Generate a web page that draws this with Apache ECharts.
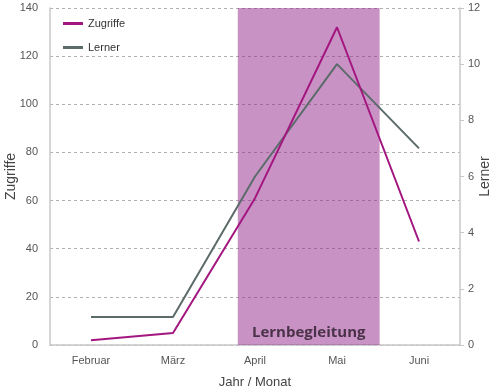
<!DOCTYPE html>
<html>
<head>
<meta charset="utf-8">
<script src="https://cdn.jsdelivr.net/npm/echarts@6/dist/echarts.min.js"></script>
<style>html,body{margin:0;padding:0;background:#fff}#c{width:500px;height:391px}</style>
</head>
<body>
<div id="c"></div>
<script>
const categories = ['Februar', 'März', 'April', 'Mai', 'Juni'];
const zugriffe = [2, 5, 61, 132, 43];
const lerner = [1, 1, 6, 10, 7];
const leftTicks = {min: 0, max: 140, interval: 20};
const rightTicks = {min: 0, max: 12, interval: 2};
const bandLabel = 'Lernbegleitung';
const bandRange = [1.79, 3.52];

const chart = echarts.init(document.getElementById('c'), null, {renderer: 'canvas'});
const font = 'Liberation Sans, Arial, sans-serif';
chart.setOption({
  animation: false,
  textStyle: {fontFamily: font},
  grid: {left: 50, right: 40, top: 8, bottom: 46, containLabel: false, outerBoundsMode: 'none'},
  legend: {
    orient: 'vertical', left: 58, top: 13, itemGap: 13,
    itemWidth: 20, itemHeight: 3, icon: 'rect',
    textStyle: {fontSize: 11, color: '#333', fontFamily: font},
    data: ['Zugriffe', 'Lerner']
  },
  xAxis: [{
    type: 'category', data: categories, boundaryGap: true,
    name: 'Jahr / Monat', nameLocation: 'middle', nameGap: 31, nameMoveOverlap: false,
    nameTextStyle: {fontSize: 13, color: '#444'},
    axisLine: {onZero: false, lineStyle: {color: '#c8c8c8', width: 1.5}},
    axisTick: {show: false},
    axisLabel: {fontSize: 11, color: '#555', margin: 10}
  }, {
    type: 'value', min: -0.5, max: 4.5, show: false,
    axisLine: {onZero: false}
  }],
  yAxis: [{
    type: 'value', min: leftTicks.min, max: leftTicks.max, interval: leftTicks.interval,
    position: 'left',
    name: 'Zugriffe', nameLocation: 'middle', nameGap: 32, nameMoveOverlap: false,
    nameTextStyle: {fontSize: 14, color: '#444'},
    axisLine: {show: true, onZero: false, lineStyle: {color: '#c8c8c8', width: 1.5}},
    axisTick: {show: false},
    axisLabel: {fontSize: 11, color: '#555', margin: 12},
    splitLine: {show: true, lineStyle: {type: [3, 3], color: '#b0b0b0'}}
  }, {
    type: 'value', min: rightTicks.min, max: rightTicks.max, interval: rightTicks.interval,
    position: 'right',
    name: 'Lerner', nameLocation: 'middle', nameGap: 18, nameMoveOverlap: false,
    nameTextStyle: {fontSize: 14, color: '#444'},
    axisLine: {show: true, onZero: false, lineStyle: {color: '#c8c8c8', width: 1.5}},
    axisTick: {show: true, length: 4, lineStyle: {color: '#c8c8c8'}},
    axisLabel: {fontSize: 11, color: '#555', margin: 8},
    splitLine: {show: false}
  }],
  series: [{
    name: 'band', type: 'line', xAxisIndex: 1, yAxisIndex: 0, data: [], silent: true,
    markArea: {
      silent: true,
      itemStyle: {color: 'rgba(147,37,139,0.5)'},
      label: {show: true, position: 'insideBottom', distance: 5, formatter: bandLabel,
        fontSize: 15, fontWeight: 'bold', color: '#4a3348', fontFamily: 'Open Sans, sans-serif'},
      data: [[{xAxis: bandRange[0]}, {xAxis: bandRange[1]}]]
    }
  }, {
    name: 'Zugriffe', type: 'line', xAxisIndex: 0, yAxisIndex: 0, data: zugriffe,
    symbol: 'none', z: 5,
    lineStyle: {color: '#a3167f', width: 2}, itemStyle: {color: '#a3167f'}
  }, {
    name: 'Lerner', type: 'line', xAxisIndex: 0, yAxisIndex: 1, data: lerner,
    symbol: 'none', z: 4,
    lineStyle: {color: '#5b6b69', width: 2}, itemStyle: {color: '#5b6b69'}
  }]
});
</script>
</body>
</html>
